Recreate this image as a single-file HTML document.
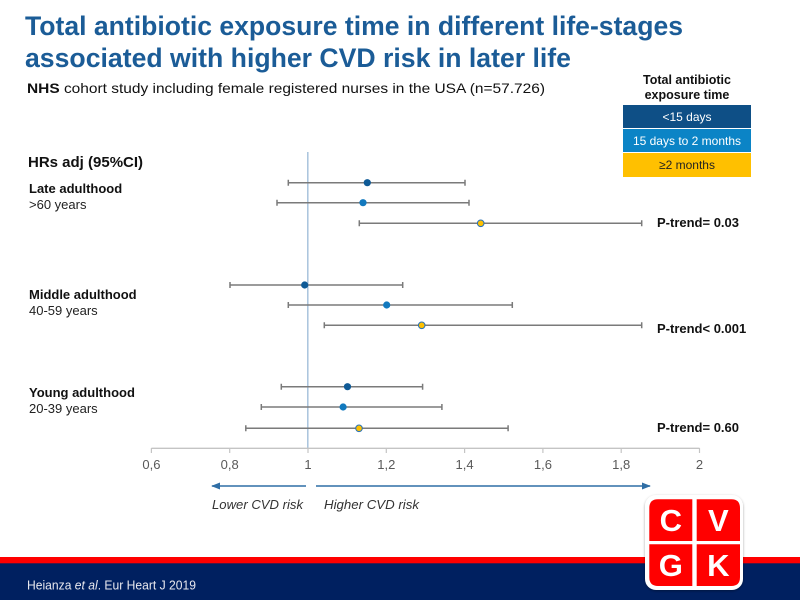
<!DOCTYPE html>
<html>
<head>
<meta charset="utf-8">
<style>
  html, body { margin:0; padding:0; background:#ffffff; }
  body { width:800px; height:600px; overflow:hidden; }
  svg { display:block; }
  text { font-family: "Liberation Sans", Arial, sans-serif; }
</style>
</head>
<body>
<svg width="800" height="600" viewBox="0 0 800 600" xmlns="http://www.w3.org/2000/svg">
  <defs>
    <marker id="ah" viewBox="0 0 10 10" refX="9" refY="5" markerWidth="6" markerHeight="6" orient="auto-start-reverse">
      <path d="M0,1 L10,5 L0,9 z" fill="#2f6ea5"/>
    </marker>
    <filter id="sh" x="-10%" y="-10%" width="120%" height="120%">
      <feDropShadow dx="0" dy="1" stdDeviation="1.2" flood-color="#000" flood-opacity="0.35"/>
    </filter>
  </defs>

  <!-- Title -->
  <text x="25" y="35" font-size="27" font-weight="bold" fill="#1b5c97" textLength="658" lengthAdjust="spacingAndGlyphs">Total antibiotic exposure time in different life-stages</text>
  <text x="25" y="67" font-size="27" font-weight="bold" fill="#1b5c97" textLength="546" lengthAdjust="spacingAndGlyphs">associated with higher CVD risk in later life</text>

  <!-- Subtitle -->
  <text x="27" y="93" font-size="14" fill="#111" textLength="518" lengthAdjust="spacingAndGlyphs"><tspan font-weight="bold">NHS</tspan> cohort study including female registered nurses in the USA (n=57.726)</text>

  <!-- Legend -->
  <text x="687" y="84" font-size="12.5" font-weight="bold" fill="#111" text-anchor="middle">Total antibiotic</text>
  <text x="687" y="99" font-size="12.5" font-weight="bold" fill="#111" text-anchor="middle">exposure time</text>
  <rect x="623" y="105" width="128" height="23" fill="#0e4f86"/>
  <rect x="623" y="129" width="128" height="23" fill="#0b84c6"/>
  <rect x="623" y="153" width="128" height="24" fill="#ffc000"/>
  <text x="687" y="121" font-size="12" fill="#ffffff" text-anchor="middle">&lt;15 days</text>
  <text x="687" y="145" font-size="12" fill="#ffffff" text-anchor="middle">15 days to 2 months</text>
  <text x="687" y="169" font-size="12" fill="#222" text-anchor="middle">≥2 months</text>

  <!-- Left labels -->
  <text x="28" y="167" font-size="15" font-weight="bold" fill="#111">HRs adj (95%CI)</text>
  <text x="29" y="193" font-size="13" font-weight="bold" fill="#111">Late adulthood</text>
  <text x="29" y="209" font-size="13" fill="#222">&gt;60 years</text>
  <text x="29" y="299" font-size="13" font-weight="bold" fill="#111">Middle adulthood</text>
  <text x="29" y="315" font-size="13" fill="#222">40-59 years</text>
  <text x="29" y="397" font-size="13" font-weight="bold" fill="#111">Young adulthood</text>
  <text x="29" y="413" font-size="13" fill="#222">20-39 years</text>

  <!-- Reference line at 1 -->
  <line x1="307.8" y1="152" x2="307.8" y2="448" stroke="#a8c3dc" stroke-width="1.5"/>

  <!-- Axis -->
  <line x1="151.4" y1="448.3" x2="699.5" y2="448.3" stroke="#c4c4c4" stroke-width="1.3"/>
  <g stroke="#c4c4c4" stroke-width="1.2">
    <line x1="151.4" y1="448" x2="151.4" y2="453"/>
    <line x1="229.7" y1="448" x2="229.7" y2="453"/>
    <line x1="308" y1="448" x2="308" y2="453"/>
    <line x1="386.3" y1="448" x2="386.3" y2="453"/>
    <line x1="464.6" y1="448" x2="464.6" y2="453"/>
    <line x1="542.9" y1="448" x2="542.9" y2="453"/>
    <line x1="621.2" y1="448" x2="621.2" y2="453"/>
    <line x1="699.5" y1="448" x2="699.5" y2="453"/>
  </g>
  <g font-size="13" fill="#595959" text-anchor="middle">
    <text x="151.4" y="469">0,6</text>
    <text x="229.7" y="469">0,8</text>
    <text x="308" y="469">1</text>
    <text x="386.3" y="469">1,2</text>
    <text x="464.6" y="469">1,4</text>
    <text x="542.9" y="469">1,6</text>
    <text x="621.2" y="469">1,8</text>
    <text x="699.5" y="469">2</text>
  </g>

  <!-- Risk arrows -->
  <line x1="306" y1="486" x2="212" y2="486" stroke="#2f6ea5" stroke-width="1.5" marker-end="url(#ah)"/>
  <line x1="316" y1="486" x2="650" y2="486" stroke="#2f6ea5" stroke-width="1.5" marker-end="url(#ah)"/>
  <text x="212" y="509" font-size="12.5" font-style="italic" fill="#333" textLength="91" lengthAdjust="spacingAndGlyphs">Lower CVD risk</text>
  <text x="324" y="509" font-size="12.5" font-style="italic" fill="#333" textLength="95" lengthAdjust="spacingAndGlyphs">Higher CVD risk</text>

  <!-- CI lines -->
  <g stroke="#7a7a7a" stroke-width="1.5" fill="none">
    <path d="M288.3 182.7 H465 M288.3 179.7 V185.7 M465 179.7 V185.7"/>
    <path d="M277 202.7 H469 M277 199.7 V205.7 M469 199.7 V205.7"/>
    <path d="M359.3 223.3 H641.7 M359.3 220.3 V226.3 M641.7 220.3 V226.3"/>
    <path d="M230 285 H402.7 M230 282 V288 M402.7 282 V288"/>
    <path d="M288.3 305 H512.3 M288.3 302 V308 M512.3 302 V308"/>
    <path d="M324.3 325.3 H641.7 M324.3 322.3 V328.3 M641.7 322.3 V328.3"/>
    <path d="M281.3 386.7 H422.6 M281.3 383.7 V389.7 M422.6 383.7 V389.7"/>
    <path d="M261.3 407 H441.9 M261.3 404 V410 M441.9 404 V410"/>
    <path d="M245.8 428.3 H508.1 M245.8 425.3 V431.3 M508.1 425.3 V431.3"/>
  </g>

  <!-- Points -->
  <g>
    <circle cx="367.3" cy="182.7" r="3.6" fill="#0f5a96"/>
    <circle cx="363" cy="202.7" r="3.6" fill="#1279be"/>
    <circle cx="480.7" cy="223.3" r="3.3" fill="#ffc000" stroke="#2e75b6" stroke-width="1.1"/>

    <circle cx="304.7" cy="285" r="3.6" fill="#0f5a96"/>
    <circle cx="386.7" cy="305" r="3.6" fill="#1279be"/>
    <circle cx="421.7" cy="325.3" r="3.3" fill="#ffc000" stroke="#2e75b6" stroke-width="1.1"/>

    <circle cx="347.5" cy="386.7" r="3.6" fill="#0f5a96"/>
    <circle cx="343.1" cy="407" r="3.6" fill="#1279be"/>
    <circle cx="359" cy="428.3" r="3.3" fill="#ffc000" stroke="#2e75b6" stroke-width="1.1"/>
  </g>

  <!-- P-trend labels -->
  <g font-size="13" font-weight="bold" fill="#111">
    <text x="657" y="227">P-trend= 0.03</text>
    <text x="657" y="333">P-trend&lt; 0.001</text>
    <text x="657" y="432">P-trend= 0.60</text>
  </g>

  <!-- Footer bars -->
  <rect x="0" y="557" width="800" height="6.5" fill="#ff0000"/>
  <rect x="0" y="563.3" width="800" height="36.7" fill="#002060"/>
  <text x="27" y="589.5" font-size="13" fill="#e8e8ee" textLength="169" lengthAdjust="spacingAndGlyphs">Heianza <tspan font-style="italic">et al</tspan>. Eur Heart J 2019</text>

  <!-- Logo -->
  <g filter="url(#sh)">
    <rect x="645" y="495" width="98" height="95" rx="11" ry="11" fill="#ffffff"/>
  </g>
  <path d="M649.3 541 V508 Q649.3 499.3 658 499.3 H692.3 V541 Z" fill="#ff0000"/>
  <path d="M696.7 499.3 H731.3 Q740 499.3 740 508 V541 H696.7 Z" fill="#ff0000"/>
  <path d="M649.3 544.3 H692.3 V586 H658 Q649.3 586 649.3 577.3 Z" fill="#ff0000"/>
  <path d="M696.7 544.3 H740 V577.3 Q740 586 731.3 586 H696.7 Z" fill="#ff0000"/>
  <g font-size="31" font-weight="bold" fill="#ffffff" text-anchor="middle">
    <text x="670.8" y="531">C</text>
    <text x="718.3" y="531">V</text>
    <text x="670.8" y="576">G</text>
    <text x="718.3" y="576">K</text>
  </g>
</svg>
</body>
</html>
